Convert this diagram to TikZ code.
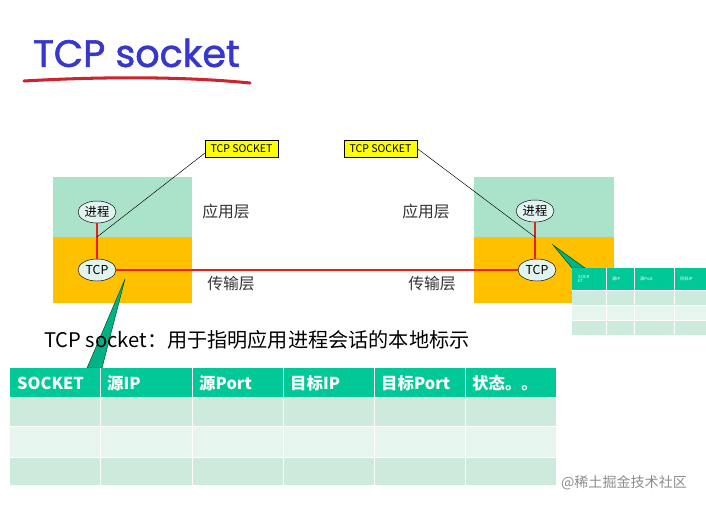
\documentclass[tikz,border=0pt]{standalone}
\usepackage{fontspec}
\setmainfont{Noto Sans CJK SC}
\newfontfamily\titlefont[FakeBold=1.5]{Poppins}
\usetikzlibrary{shapes.geometric}

\definecolor{appgreen}{RGB}{170,226,202}
\definecolor{tportorange}{RGB}{255,192,0}
\definecolor{ovalfill}{RGB}{226,244,240}
\definecolor{headgreen}{RGB}{0,200,150}
\definecolor{rowdark}{RGB}{204,235,220}
\definecolor{rowlight}{RGB}{230,246,238}
\definecolor{titleblue}{RGB}{55,55,205}
\definecolor{underred}{RGB}{205,35,45}
\definecolor{linkred}{RGB}{235,30,30}
\definecolor{calloutgreen}{RGB}{0,178,135}
\definecolor{sockyellow}{RGB}{255,255,0}

\begin{document}
\begin{tikzpicture}[x=0.03cm,y=-0.03cm,
  proc/.style={ellipse, draw, fill=ovalfill, minimum width=1.14cm, minimum height=0.66cm, inner sep=0pt, font=\fontsize{10.5}{10.5}\selectfont},
  sockbox/.style={draw, fill=sockyellow, minimum width=2.19cm, minimum height=0.51cm, inner sep=0pt, font=\fontsize{9}{9}\selectfont},
  layertxt/.style={font=\fontsize{13.5}{14}\selectfont, text=black!80},
  redlink/.style={draw=linkred, line width=0.9pt},
  callout/.style={fill=calloutgreen, draw=black!70!green, line width=0.4pt},
  headtxt/.style={anchor=west, text=white, inner sep=0pt, font=\fontsize{14}{14}\selectfont\bfseries},
  tinytxt/.style={anchor=west, text=white, inner sep=0pt, align=left, font=\fontsize{3.6}{4}\selectfont}]

\useasboundingbox (0,0) rectangle (706,506);

% title
\node[anchor=west, inner sep=0pt, text=titleblue, font=\fontsize{32.5}{33}\selectfont\titlefont] (title) at (33,53) {TCP socket};
\draw[underred, line width=2.6pt, line cap=round] (24,81) .. controls (110,76) and (190,77) .. (250,83);

% left host
\fill[appgreen] (53,177) rectangle (192,237);
\fill[tportorange] (53,237) rectangle (192,303);
\node[proc] (procL) at (97,212) {进程};
\node[proc] (tcpL) at (97,270) {TCP};
\draw[redlink] (procL) -- (tcpL);
\coordinate (jointL) at (97,237);
\node[layertxt] (appL) at (226,211) {应用层};
\node[layertxt] (tranL) at (231,284) {传输层};
\node[sockbox] (sockL) at (241.5,148.5) {TCP SOCKET};
\draw[black, line width=0.4pt] (jointL) -- ([yshift=-0.14cm]sockL.west);

% right host
\fill[appgreen] (474,177) rectangle (614,237);
\fill[tportorange] (474,237) rectangle (614,303);
\node[proc] (procR) at (535,211) {进程};
\node[proc] (tcpR) at (537,270) {TCP};
\draw[redlink] (procR) -- (procR |- tcpR.north);
\coordinate (jointR) at (535,237);
\node[layertxt] (appR) at (426,211) {应用层};
\node[layertxt] (tranR) at (432,284) {传输层};
\node[sockbox] (sockR) at (380.5,148.5) {TCP SOCKET};
\draw[black, line width=0.4pt] (sockR.east) -- (jointR);

\draw[redlink] (tcpL) -- (tcpR);

% callouts
\filldraw[callout] (125,279) -- (87,368) -- (102,368) -- cycle;
\filldraw[callout] (553,245) -- (572,268) -- (585,268) -- cycle;

% small table (cut at the edge)
\begin{scope}
\clip (0,0) rectangle (706,506);
\fill[headgreen] (572,268) rectangle (720,290);
\fill[rowdark] (572,290) rectangle (720,305);
\fill[rowlight] (572,305) rectangle (720,320);
\fill[rowdark] (572,320) rectangle (720,335);
\foreach \x in {606,634,674}
  \draw[white, line width=0.5pt] (\x,268) -- (\x,335);
\foreach \y in {290,305,320}
  \draw[white, line width=0.5pt] (572,\y) -- (720,\y);
\foreach \x/\t [count=\i] in {572/SOCK\\ET, 606/源IP, 634/源Port, 674/目标IP}
  \node[tinytxt] (st\i) at (\x+6,279) {\t};
\end{scope}

% caption
\node[anchor=west, inner sep=0pt, font=\fontsize{17.2}{18}\selectfont] (caption) at (44,340) {TCP socket：用于指明应用进程会话的本地标示};

% big table
\fill[headgreen] (10,368) rectangle (556,397);
\fill[rowdark] (10,397) rectangle (556,426);
\fill[rowlight] (10,426) rectangle (556,457);
\fill[rowdark] (10,457) rectangle (556,485);
\foreach \x in {100,192,283,374,465}
  \draw[white, line width=0.8pt] (\x,368) -- (\x,485);
\foreach \y in {397,426,457}
  \draw[white, line width=0.8pt] (10,\y) -- (556,\y);
\foreach \x/\t [count=\i] in {10/SOCKET, 100/源IP, 192/源Port, 283/目标IP, 374/目标Port, 465/状态。。}
  \node[headtxt] (head\i) at (\x+7,383) {\t};

% watermark
\node[text=black!45, inner sep=0pt, font=\fontsize{12}{12}\selectfont] (mark) at (624,483) {@稀土掘金技术社区};

\end{tikzpicture}
\end{document}
